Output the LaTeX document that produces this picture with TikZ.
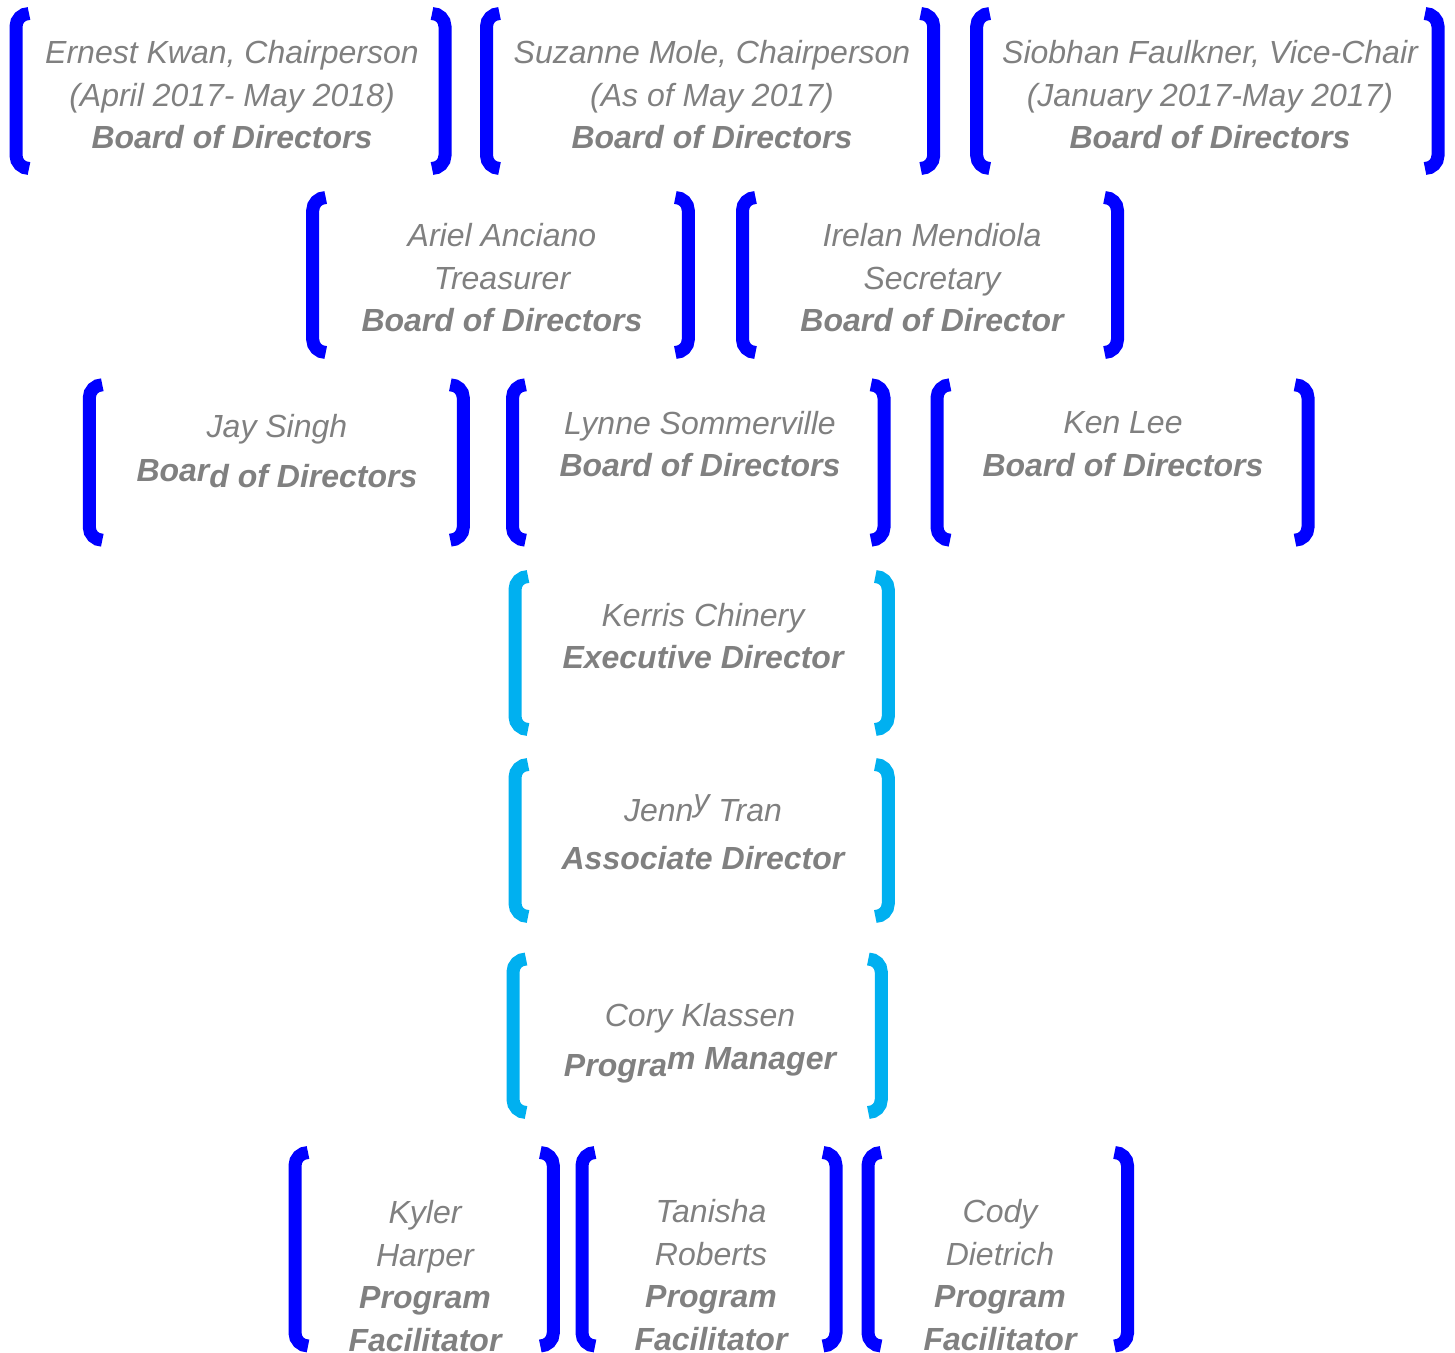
\documentclass[tikz,border=0pt]{standalone}
\usepackage{fontspec}
\setmainfont{Liberation Sans}
\usepackage{tikz}
\usetikzlibrary{positioning}
\definecolor{boardblue}{HTML}{0000FF}
\definecolor{staffcyan}{HTML}{00B0F0}
\definecolor{namegray}{HTML}{808080}
% left x, right x, top y, bottom y, style
\newcommand{\brackpair}[5]{%
  \draw[#5] ({#1+13},#3) -- (#1,#3) -- (#1,#4) -- ({#1+13},#4);
  \draw[#5] ({#2-13},#3) -- (#2,#3) -- (#2,#4) -- ({#2-13},#4);}

\begin{document}
\begin{tikzpicture}[x=0.5pt,y=-0.5pt,
  board/.style={draw=boardblue,line width=6.5pt,rounded corners=6.5pt},
  staff/.style={draw=staffcyan,line width=6.5pt,rounded corners=6.5pt},
  who/.style={text=namegray,align=center,inner sep=0pt,
    font=\fontsize{16}{21.25}\selectfont\itshape}]
 \useasboundingbox (0,0) rectangle (1455,1353);
 % board, first row
 \brackpair{16}{445}{13.5}{168.5}{board}
 \brackpair{486.5}{933.7}{13.5}{168.5}{board}
 \brackpair{976.7}{1438}{13.5}{168.5}{board}
 \node[who] (kwan) at (232,95) {Ernest Kwan, Chairperson\\(April 2017- May 2018)\\\textbf{Board of Directors}};
 \node[who] (mole) at (712,95) {Suzanne Mole, Chairperson\\(As of May 2017)\\\textbf{Board of Directors}};
 \node[who] (faulkner) at (1210,95) {Siobhan Faulkner, Vice-Chair\\(January 2017-May 2017)\\\textbf{Board of Directors}};
 % board, second row
 \brackpair{312.7}{688.3}{197.5}{352.5}{board}
 \brackpair{742.5}{1117.5}{197.5}{352.5}{board}
 \node[who] (anciano) at (502,278) {Ariel Anciano\\Treasurer\\\textbf{Board of Directors}};
 \node[who] (mendiola) at (932,278) {Irelan Mendiola\\Secretary\\\textbf{Board of Director}};
 % board, third row
 \brackpair{89.3}{463.3}{384.8}{540.2}{board}
 \brackpair{512.5}{884}{384.8}{540.2}{board}
 \brackpair{937}{1308}{384.8}{540.2}{board}
 \node[who] (singh) at (277,451) {Jay Singh\\[3.5pt]\textbf{\raisebox{3pt}{Boar}d of Directors}};
 \node[who] (sommerville) at (700,444) {Lynne Sommerville\\\textbf{Board of Directors}};
 \node[who] (lee) at (1123,444) {Ken Lee\\\textbf{Board of Directors}};
 % staff
 \brackpair{515}{888.3}{576.5}{729.5}{staff}
 \brackpair{515}{888.3}{764.5}{916.5}{staff}
 \brackpair{513}{881.3}{959}{1112.5}{staff}
 \node[who] (chinery) at (703,636) {Kerris Chinery\\\textbf{Executive Director}};
 \node[who] (tran) at (703,832) {Jenn\raisebox{5pt}{y} Tran\\[3pt]\textbf{Associate Director}};
 \node[who] (klassen) at (700,1043) {Cory Klassen\\\textbf{\raisebox{-3.5pt}{Progra}m Manager}};
 % facilitators
 \brackpair{295}{553.3}{1152.5}{1346}{board}
 \brackpair{582}{836}{1152.5}{1346}{board}
 \brackpair{868}{1127.5}{1152.5}{1346}{board}
 \node[who] (harper) at (425,1276) {Kyler\\Harper\\\textbf{Program}\\\textbf{Facilitator}};
 \node[who] (roberts) at (711,1275) {Tanisha\\Roberts\\\textbf{Program}\\\textbf{Facilitator}};
 \node[who] (dietrich) at (1000,1275) {Cody\\Dietrich\\\textbf{Program}\\\textbf{Facilitator}};
\end{tikzpicture}
\end{document}
